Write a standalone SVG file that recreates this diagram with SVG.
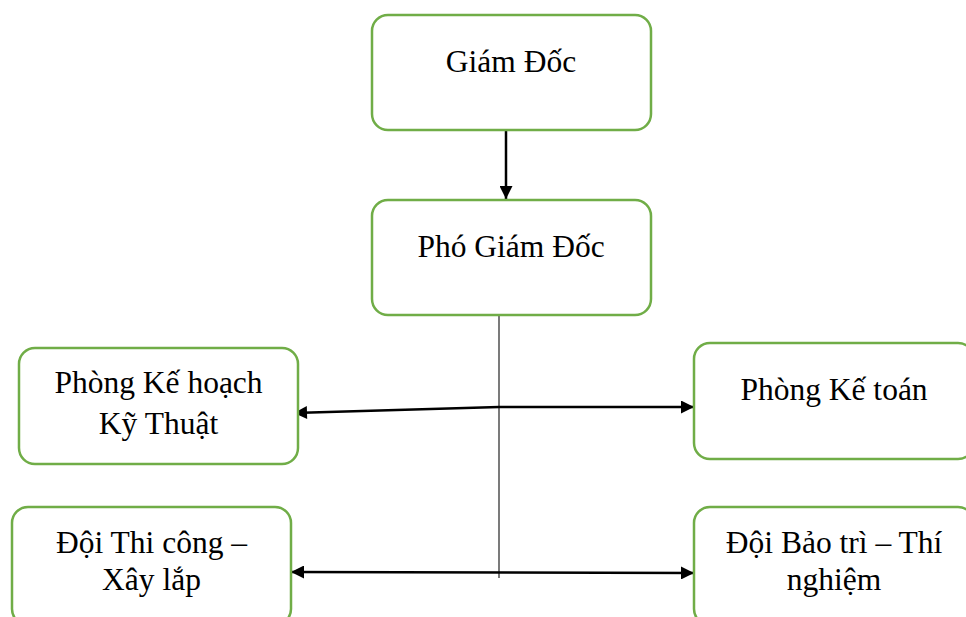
<svg xmlns="http://www.w3.org/2000/svg" width="966" height="617" viewBox="0 0 966 617">
<style>
.box{fill:#fff;stroke:#70AD47;stroke-width:2.5}
.t{font-family:"Liberation Serif","Times New Roman",serif;font-size:31.5px;fill:#000;text-anchor:middle}
.ar{stroke:#000;stroke-width:2.5;fill:none}
.thin{stroke:#333;stroke-width:1.3;fill:none}
</style>
<defs>
<marker id="ah" viewBox="0 0 10 10" refX="10" refY="5" markerWidth="5.8" markerHeight="5.2" markerUnits="strokeWidth" orient="auto-start-reverse">
<path d="M0,0 L10,5 L0,10 z" fill="#000"/>
</marker>
</defs>
<rect width="966" height="617" fill="#fff"/>
<g id="connectors">
<line class="ar" x1="506" y1="130" x2="506" y2="199" marker-end="url(#ah)"/>
<line class="thin" x1="499" y1="315" x2="499" y2="578"/>
<polyline class="ar" points="294,413 499,407 694,407" marker-start="url(#ah)" marker-end="url(#ah)"/>
<line class="ar" x1="291" y1="572" x2="694" y2="573" marker-start="url(#ah)" marker-end="url(#ah)"/>
</g>
<g id="giam-doc">
<rect class="box" x="372" y="15" width="279" height="115" rx="16"/>
<text class="t" x="511" y="72">Giám Đốc</text>
</g>
<g id="pho-giam-doc">
<rect class="box" x="372" y="200" width="279" height="115" rx="16"/>
<text class="t" x="511" y="257">Phó Giám Đốc</text>
</g>
<g id="phong-ke-hoach">
<rect class="box" x="19" y="348" width="279" height="116" rx="16"/>
<text class="t" x="158.5" y="393">Phòng Kế hoạch</text>
<text class="t" x="158.5" y="434">Kỹ Thuật</text>
</g>
<g id="phong-ke-toan">
<rect class="box" x="694" y="343" width="280" height="116" rx="16"/>
<text class="t" x="834" y="400">Phòng Kế toán</text>
</g>
<g id="doi-thi-cong">
<rect class="box" x="12" y="507" width="279" height="118" rx="16"/>
<text class="t" x="151.5" y="553">Đội Thi công –</text>
<text class="t" x="151.5" y="590">Xây lắp</text>
</g>
<g id="doi-bao-tri">
<rect class="box" x="694" y="507" width="280" height="118" rx="16"/>
<text class="t" x="834" y="553">Đội Bảo trì – Thí</text>
<text class="t" x="834" y="590">nghiệm</text>
</g>
</svg>
